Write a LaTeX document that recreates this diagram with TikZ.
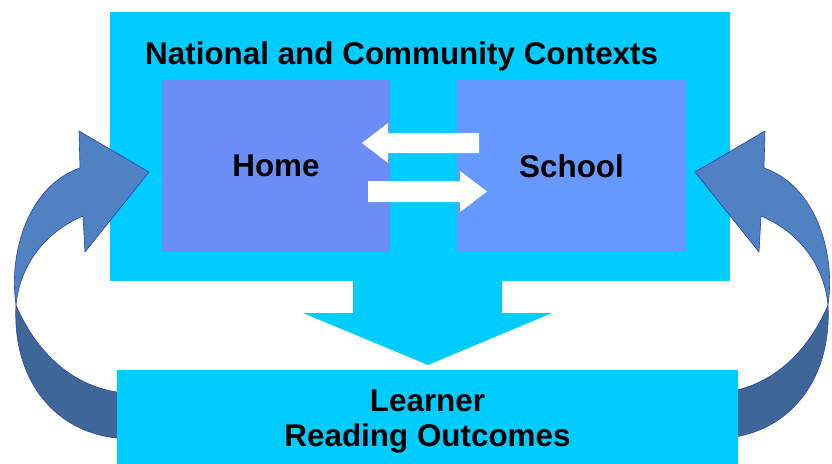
\documentclass[tikz,border=0pt]{standalone}
\usepackage{fontspec}
\setmainfont{Liberation Sans}
\usetikzlibrary{positioning}

\definecolor{ctxcyan}{HTML}{00CCFF}
\definecolor{homeblue}{HTML}{6A8EF6}
\definecolor{boxblue}{HTML}{6699FF}
\definecolor{looplight}{HTML}{5081C0}
\definecolor{loopdark}{HTML}{3E6696}
\definecolor{loopedge}{HTML}{2B42B8}

\tikzset{
  panel/.style={fill=#1, inner sep=0pt},
  caption/.style={font=\fontsize{31.4}{35.5}\selectfont\bfseries, text=black, inner sep=0pt},
  loopside/.style={draw=loopedge, line width=0.6pt, line join=round},
  backarrow/.pic={
    % upper half with the head
    \fill[looplight, loopside] (149,172) -- (85,252) -- (83,216)
      .. controls (45,232) and (20,265) .. (16,305)
      .. controls (8,250) and (30,185) .. (80,168) -- (79,131) -- cycle;
    % lower half, running under the learner box
    \fill[loopdark, loopside] (16,305) .. controls (35,350) and (70,385) .. (117,392)
      -- (125,393) -- (125,438) -- (117,438)
      .. controls (55,432) and (12,380) .. (16,305) -- cycle;
  }
}

\begin{document}
\begin{tikzpicture}[x=1pt,y=-1pt]
\useasboundingbox (0,0) rectangle (832,463);

\node [panel=ctxcyan, minimum width=620pt, minimum height=269pt] (context) at (420,146.5) {};
\node [caption, anchor=base west] (title) at (145,64) {National and Community Contexts};

\node [panel=homeblue, caption, minimum width=228pt, minimum height=172pt] (home) at (276,166) {Home};
\node [panel=boxblue, caption, minimum width=229pt, minimum height=172pt] (school) at (571.5,166) {School};

% white arrows between home and school
\fill [white] (479,133) -- (388,133) -- (388,123) -- (362,143) -- (388,163) -- (388,153) -- (479,153) -- cycle;
\fill [white] (368,181) -- (460,181) -- (460,171) -- (487,191.5) -- (460,212) -- (460,202) -- (368,202) -- cycle;

% big arrow down to the learner
\fill [ctxcyan] (353,275) -- (502,275) -- (502,313) -- (552,313) -- (428,365) -- (303,313) -- (353,313) -- cycle;

% curved arrows back up
\pic at (0,0) {backarrow};
\pic [xscale=-1] at (844,0) {backarrow};

\node [panel=ctxcyan, minimum width=621pt, minimum height=120pt, anchor=north] (learner) at (427.5,370) {};
\node [caption, align=center, anchor=north] (outcome) at (427.5,389.5) {Learner\\Reading Outcomes};

\end{tikzpicture}
\end{document}
